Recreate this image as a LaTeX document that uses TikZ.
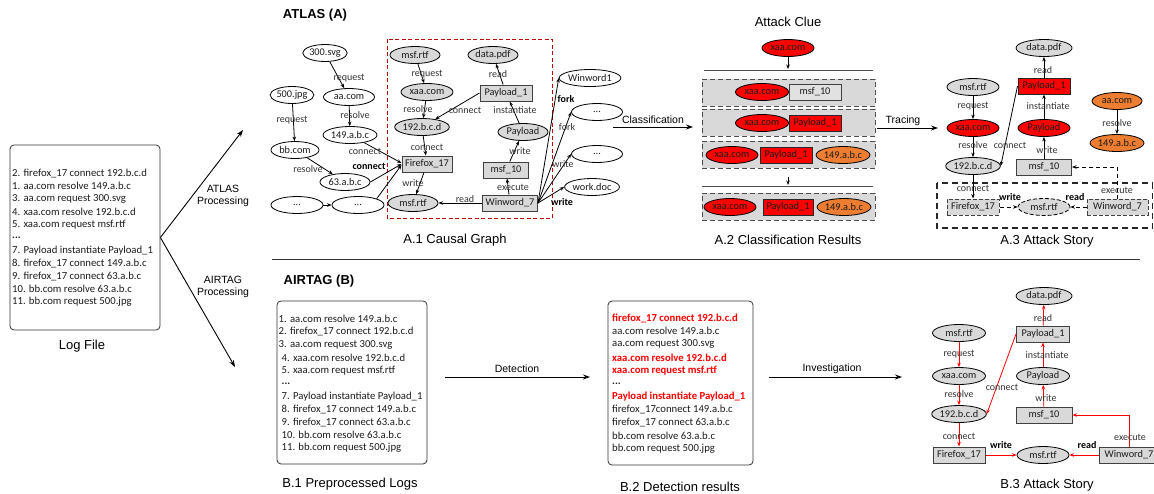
\documentclass[tikz,border=0pt]{standalone}
\usepackage{fontspec}
\setmainfont{Liberation Sans}
\newfontfamily\calfont{Carlito}
\usetikzlibrary{shapes.geometric,arrows.meta}
\definecolor{ngray}{HTML}{D9D9D9}
\definecolor{hred}{HTML}{FF0000}
\definecolor{horange}{HTML}{ED7D31}
\definecolor{fred}{HTML}{C00000}
\definecolor{ink}{HTML}{1A1A1A}

\tikzset{
  ntext/.style={font=\calfont\fontsize{10.3}{12}\selectfont, text=ink},
  nd/.style={ellipse, draw=black, line width=0.8pt, inner sep=0pt, minimum width=#1, minimum height=17, ntext},
  nd/.default=52,
  gnd/.style={nd=#1, fill=ngray},
  gnd/.default=52,
  rnd/.style={nd=#1, fill=hred},
  rnd/.default=52,
  ond/.style={nd=#1, fill=horange},
  ond/.default=52,
  bx/.style={rectangle, draw=black!75, line width=1pt, fill=ngray, inner sep=0pt, minimum width=#1, minimum height=16, ntext},
  bx/.default=52,
  rbx/.style={bx=#1, fill=hred, draw=black!85},
  rbx/.default=52,
  lbl/.style={font=\calfont\fontsize{10}{11}\selectfont, text=black!80, inner sep=0.5pt},
  blbl/.style={lbl, font=\calfont\bfseries\fontsize{10}{11}\selectfont, text=black},
  ar/.style={line width=0.8pt, -{Stealth[length=4.5pt,width=3.5pt]}},
  rar/.style={ar, draw=hred},
  dar/.style={ar, dash pattern=on 4pt off 3pt},
  bigar/.style={line width=0.9pt, -{Stealth[length=7pt,width=5pt]}},
  lg/.style={anchor=west, inner sep=0pt, font=\calfont\fontsize{10.7}{12}\selectfont, text=ink},
  lgred/.style={lg, font=\calfont\bfseries\fontsize{10.7}{12}\selectfont, text=hred},
  captxt/.style={font=\fontsize{13}{15}\selectfont, inner sep=0pt},
  ttl/.style={font=\bfseries\fontsize{13}{15}\selectfont, inner sep=0pt},
  alb/.style={font=\fontsize{10.5}{12.5}\selectfont, inner sep=0pt, align=center},
  logbox/.style={draw=black!80, line width=0.8pt, rounded corners=4pt, inner sep=0pt},
  clsbox/.style={draw=black!70, dash pattern=on 5pt off 3pt, line width=1pt, fill=ngray, inner sep=0pt, minimum width=173, minimum height=27},
  rulestroke/.style={line width=1pt, black!70}
}

\begin{document}
\begin{tikzpicture}[x=1pt,y=-1pt]
\useasboundingbox (0,0) rectangle (1154,493);

% ---------------- log file ----------------
\node[logbox, minimum width=150, minimum height=185] (logbox) at (85,237.5) {};
\foreach \t [count=\i] in {{2. firefox\_17 connect 192.b.c.d},{1. aa.com resolve 149.a.b.c},
  {3. aa.com request 300.svg},{4. xaa.com resolve 192.b.c.d},{5. xaa.com request msf.rtf},
  {\textbf{...}},{7. Payload instantiate Payload\_1},{8. firefox\_17 connect 149.a.b.c},
  {9. firefox\_17 connect 63.a.b.c},{10. bb.com resolve 63.a.b.c},{11. bb.com request 500.jpg}}
  {\node[lg] (logl\i) at (12,{173+12.9*(\i-1)}) {\t};}
\node[captxt] (logcap) at (82,346) {Log File};

\coordinate (atlasTip) at (243,130);
\coordinate (airtagTip) at (235,367);
\draw[bigar] (logbox.east) -- (atlasTip);
\draw[bigar] (logbox.east) -- (airtagTip);
\node[alb] (atlasproc) at (223,196) {ATLAS\\Processing};
\node[alb] (airtagproc) at (223,287) {AIRTAG\\Processing};

% section titles and divider
\node[ttl] (ttlA) at (315,15) {ATLAS (A)};
\node[ttl] (ttlB) at (319,281) {AIRTAG (B)};
\coordinate (divL) at (272,259);
\coordinate (divR) at (1140,259);
\draw[line width=0.8pt, black!80] (divL) -- (divR);

% ---------------- A.1 causal graph ----------------
\draw[fred, line width=1pt, dash pattern=on 4pt off 2.5pt] (387,39) rectangle (552,218);

\node[nd=41] (svg) at (325,53) {300.svg};
\node[nd=51] (aa) at (349,97) {aa.com};
\node[nd=50] (ip149) at (350,135) {149.a.b.c};
\node[nd=42] (jpg) at (292,95) {500.jpg};
\node[nd=48] (bb) at (295,150) {bb.com};
\node[nd=50] (ip63) at (345,182) {63.a.b.c};
\node[nd=52] (dotsL) at (297,205) {...};
\node[nd=52] (dotsR) at (358,205) {...};
\node[gnd=50] (msfA) at (415,55) {msf.rtf};
\node[gnd=52] (xaaA) at (427,92) {xaa.com};
\node[gnd=53] (ipdA) at (422,127) {192.b.c.d};
\node[bx=50] (ffA) at (427,164) {Firefox\_17};
\node[gnd=50] (msfB) at (413,203) {msf.rtf};
\node[bx=55] (wwA) at (510,203) {Winword\_7};
\node[bx=45] (m10A) at (506,170) {msf\_10};
\node[gnd=50] (plA) at (523,132) {Payload};
\node[bx=52] (p1A) at (506,93) {Payload\_1};
\node[gnd=50] (pdfA) at (493,55) {data.pdf};
\node[nd=60] (ww1) at (590,78) {Winword1};
\node[nd=51] (d1) at (597,112) {...};
\node[nd=51] (d2) at (597,154) {...};
\node[nd=51] (doc) at (592,187) {work.doc};

\draw[ar] (svg) -- (aa);
\draw[ar] (aa) -- (ip149);
\draw[ar] (jpg) -- (bb);
\draw[ar] (bb) -- (ip63);
\draw[ar] (ip149) -- ([yshift=1pt]ffA.west);
\draw[ar] (ip63.east) -- (ffA.west);
\draw[ar] (dotsR.north east) -- ([yshift=-1pt]ffA.west);
\draw[ar] (dotsL) -- (dotsR);
\draw[ar] (msfA) -- (xaaA);
\draw[ar] (xaaA) -- (ipdA);
\draw[ar] (ipdA) -- (ffA);
\draw[ar] (ffA) -- (msfB);
\draw[ar] (wwA) -- (msfB);
\draw[ar] (wwA) -- (m10A);
\draw[ar] (m10A) -- (plA);
\draw[ar] (plA) -- (p1A);
\draw[ar] (p1A) -- (pdfA);
\draw[ar] (p1A.west) -- (ipdA);
\draw[ar] (wwA.east) -- (ww1.west);
\draw[ar] (wwA.east) -- (d1.west);
\draw[ar] (wwA.east) -- (d2.west);
\draw[ar] (wwA.east) -- (doc.west);

\node[lbl] (la1) at (349,78) {request};
\node[lbl] (la2) at (355,115) {resolve};
\node[lbl] (la3) at (365,151) {connect};
\node[lbl] (la4) at (292,120) {request};
\node[lbl] (la5) at (308,169) {resolve};
\node[blbl] (la6) at (369,166) {connect};
\node[lbl] (la7) at (427,74) {request};
\node[lbl] (la8) at (418,109) {resolve};
\node[lbl] (la9) at (427,147) {connect};
\node[lbl] (la10) at (413,183) {write};
\node[lbl] (la11) at (465,199) {read};
\node[lbl] (la12) at (513,187) {execute};
\node[lbl] (la13) at (520,151) {write};
\node[lbl] (la14) at (515,110) {instantiate};
\node[lbl] (la15) at (498,74) {read};
\node[lbl] (la16) at (465,110) {connect};
\node[blbl] (la17) at (566,99) {fork};
\node[lbl] (la18) at (567,127) {fork};
\node[lbl] (la19) at (563,164) {write};
\node[blbl] (la20) at (562,202) {write};
\node[captxt] (capA1) at (455,240) {A.1 Causal Graph};

\coordinate (clsFrom) at (613,127);
\coordinate (clsTo) at (693,127);
\draw[bigar] (clsFrom) -- (clsTo);
\node[alb] (clslbl) at (653,120) {Classification};

% ---------------- A.2 classification results ----------------
\node[captxt] (clueT) at (788,22) {Attack Clue};
\node[rnd=52] (clue) at (788,48) {xaa.com};
\coordinate (rule1L) at (704,70);
\coordinate (rule1R) at (873,70);
\coordinate (rule1M) at (788,69);
\draw[rulestroke] (rule1L) -- (rule1R);
\draw[ar] (clue) -- (rule1M);

\node[clsbox] (row1) at (788.5,92.5) {};
\node[clsbox] (row2) at (788.5,122.5) {};
\node[clsbox] (row3) at (788.5,154.5) {};
\node[clsbox] (row4) at (788.5,206.5) {};

\node[rnd=53] (r1x) at (762,92) {xaa.com};
\node[bx=52, fill=ngray!80!white, line width=0.8pt] (r1m) at (815,92) {msf\_10};
\node[rnd=53] (r2x) at (762,123) {xaa.com};
\node[rbx=52] (r2p) at (815,123) {Payload\_1};
\node[rnd=52] (r3x) at (732,155) {xaa.com};
\node[rbx=52] (r3p) at (786,155) {Payload\_1};
\node[ond=52] (r3i) at (843,155) {149.a.b.c};
\node[rnd=52] (r4x) at (730,207) {xaa.com};
\node[rbx=50] (r4p) at (788,207) {Payload\_1};
\node[ond=52] (r4i) at (844,207) {149.a.b.c};

\coordinate (midTop) at (788,177);
\coordinate (midBot) at (788,185);
\draw[ar] (midTop) -- (midBot);
\coordinate (rule2L) at (702,186);
\coordinate (rule2R) at (873,186);
\draw[rulestroke] (rule2L) -- (rule2R);
\node[captxt] (capA2) at (788,240) {A.2 Classification Results};

\coordinate (trFrom) at (877,128);
\coordinate (trTo) at (938,128);
\draw[bigar] (trFrom) -- (trTo);
\node[alb] (trlbl) at (903,121) {Tracing};

% ---------------- A.3 attack story ----------------
\draw[black!85, line width=1.2pt, dash pattern=on 6pt off 4pt] (937,183) rectangle (1152.5,228);

\node[gnd=56] (pdfC) at (1044,48) {data.pdf};
\node[rbx=52] (p1C) at (1044,86) {Payload\_1};
\node[rnd=52] (plC) at (1044,128) {Payload};
\node[bx=55] (m10C) at (1044,167) {msf\_10};
\node[gnd=52] (msfC) at (973,87) {msf.rtf};
\node[rnd=52] (xaaC) at (973,128) {xaa.com};
\node[gnd=53] (ipdC) at (973,166) {192.b.c.d};
\node[ond=50] (aaC) at (1117,101) {aa.com};
\node[ond=51] (ip149C) at (1117,143) {149.a.b.c};
\node[bx=52, dash pattern=on 4pt off 2pt] (ffC) at (973,207) {Firefox\_17};
\node[gnd=52, dash pattern=on 4pt off 2pt] (msfC2) at (1044,207) {msf.rtf};
\node[bx=61, dash pattern=on 4pt off 2pt] (wwC) at (1117.5,207) {Winword\_7};

\draw[ar] (p1C) -- (pdfC);
\draw[ar] (plC) -- (p1C);
\draw[ar] (m10C) -- (plC);
\draw[ar] (msfC) -- (xaaC);
\draw[ar] (xaaC) -- (ipdC);
\draw[ar] (aaC) -- (ip149C);
\draw[ar] (p1C.west) -- (ipdC.east);
\draw[ar] (ipdC) -- (ffC);
\draw[dar] (ffC) -- (msfC2);
\draw[dar] (wwC) -- (msfC2);
\draw[dar] (wwC.north) |- (m10C.east);

\node[lbl] (lc1) at (1043,70) {read};
\node[lbl] (lc2) at (1048,106) {instantiate};
\node[lbl] (lc3) at (1047,150) {write};
\node[lbl] (lc4) at (973,106) {request};
\node[lbl] (lc5) at (973,145) {resolve};
\node[lbl] (lc6) at (1010,145) {connect};
\node[lbl] (lc7) at (1117,123) {resolve};
\node[lbl] (lc8) at (973,188) {connect};
\node[blbl] (lc9) at (1010,197) {write};
\node[blbl] (lc10) at (1075,197) {read};
\node[lbl] (lc11) at (1117,190) {execute};
\node[captxt] (capA3) at (1047,241) {A.3 Attack Story};

% ---------------- B.1 preprocessed logs ----------------
\node[logbox, minimum width=150, minimum height=163] (prebox) at (352,382.5) {};
\foreach \dx/\t [count=\i] in {0/{1. aa.com resolve 149.a.b.c},0/{2. firefox\_17 connect 192.b.c.d},
  0/{3. aa.com request 300.svg},3/{4. xaa.com resolve 192.b.c.d},3/{5. xaa.com request msf.rtf},
  3/{\textbf{...}},3/{7. Payload instantiate Payload\_1},3/{8. firefox\_17 connect 149.a.b.c},
  3/{9. firefox\_17 connect 63.a.b.c},3/{10. bb.com resolve 63.a.b.c},3/{11. bb.com request 500.jpg}}
  {\node[lg] (prel\i) at ({278.5+\dx},{319+12.9*(\i-1)}) {\t};}
\node[captxt] (capB1) at (350,484) {B.1 Preprocessed Logs};

\coordinate (detFrom) at (445,377);
\coordinate (detTo) at (590,377);
\draw[bigar] (detFrom) -- (detTo);
\node[alb] (detlbl) at (517,369) {Detection};

% ---------------- B.2 detection results ----------------
\node[logbox, minimum width=145, minimum height=164] (detbox) at (680.5,383) {};
\foreach \s/\t [count=\i] in {lgred/{firefox\_17 connect 192.b.c.d},lg/{aa.com resolve 149.a.b.c},
  lg/{aa.com request 300.svg},lgred/{xaa.com resolve 192.b.c.d},lgred/{xaa.com request msf.rtf},
  lg/{\textbf{...}},lgred/{Payload instantiate Payload\_1},lg/{firefox\_17connect 149.a.b.c},
  lg/{firefox\_17 connect 63.a.b.c},lg/{bb.com resolve 63.a.b.c},lg/{bb.com request 500.jpg}}
  {\node[\s] (detl\i) at (612,{318+13.1*(\i-1)}) {\t};}
\node[captxt] (capB2) at (680,487) {B.2 Detection results};

\coordinate (invFrom) at (769,377);
\coordinate (invTo) at (902,377);
\draw[bigar] (invFrom) -- (invTo);
\node[alb] (invlbl) at (832,369) {Investigation};

% ---------------- B.3 attack story ----------------
\node[gnd=56] (pdfD) at (1044,296) {data.pdf};
\node[bx=53] (p1D) at (1043,334) {Payload\_1};
\node[gnd=53] (plD) at (1043,376) {Payload};
\node[bx=56] (m10D) at (1044,415) {msf\_10};
\node[gnd=53] (msfD) at (959,333) {msf.rtf};
\node[gnd=53] (xaaD) at (959,376) {xaa.com};
\node[gnd=53] (ipdD) at (959,414) {192.b.c.d};
\node[bx=52] (ffD) at (959,455) {Firefox\_17};
\node[gnd=52] (msfD2) at (1043,455) {msf.rtf};
\node[bx=60] (wwD) at (1129,455) {Winword\_7};

\draw[rar] (p1D) -- (pdfD);
\draw[rar] (plD) -- (p1D);
\draw[rar] (m10D) -- (plD);
\draw[rar] (msfD) -- (xaaD);
\draw[rar] (xaaD) -- (ipdD);
\draw[rar] (ipdD) -- (ffD);
\draw[rar] (p1D.west) -- (ipdD.east);
\draw[rar] (ffD) -- (msfD2);
\draw[rar] (wwD) -- (msfD2);
\draw[rar] (wwD.north) |- (m10D.east);

\node[lbl] (ld1) at (1043,318) {read};
\node[lbl] (ld2) at (1047,355) {instantiate};
\node[lbl] (ld3) at (1046,398) {write};
\node[lbl] (ld4) at (959,354) {request};
\node[lbl] (ld5) at (959,394) {resolve};
\node[lbl] (ld6) at (1002,387) {connect};
\node[lbl] (ld7) at (959,436) {connect};
\node[blbl] (ld8) at (1001,445) {write};
\node[blbl] (ld9) at (1087,445) {read};
\node[lbl] (ld10) at (1130,437) {execute};
\node[captxt] (capB3) at (1047,485) {B.3 Attack Story};
\end{tikzpicture}
\end{document}
